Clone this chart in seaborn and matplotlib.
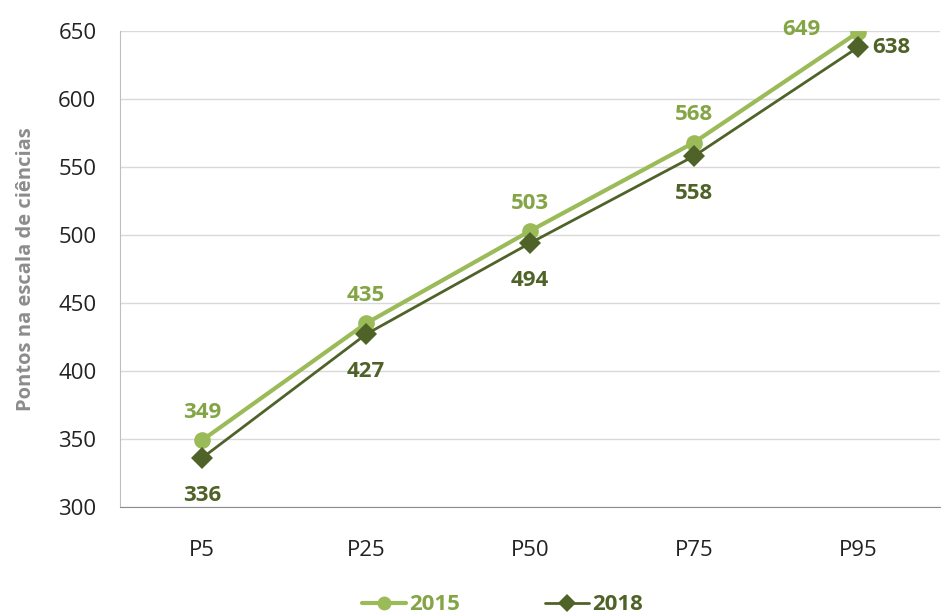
import matplotlib.pyplot as plt
import seaborn as sns
import pandas as pd

# data
percentis = ["P5", "P25", "P50", "P75", "P95"]
pontos_2015 = [349, 435, 503, 568, 649]
pontos_2018 = [336, 427, 494, 558, 638]

cor_2015 = "#9BBB59"
cor_2015_txt = "#84A545"
cor_2018 = "#4F6228"

df = pd.DataFrame({
    "Percentil": percentis * 2,
    "Pontos": pontos_2015 + pontos_2018,
    "Ano": ["2015"] * 5 + ["2018"] * 5,
})

sns.set_style("white")
plt.rcParams['font.family'] = ['Open Sans', 'DejaVu Sans']

fig = plt.figure(figsize=(9.41, 6.14), dpi=100)
ax = fig.add_axes([120 / 941, 1 - 507 / 614, 820 / 941, 476 / 614])

sns.lineplot(
    data=df, x="Percentil", y="Pontos", hue="Ano", style="Ano",
    palette={"2015": cor_2015, "2018": cor_2018},
    markers={"2015": "o", "2018": "D"}, dashes=False,
    markersize=12, linewidth=2, markeredgewidth=0, ax=ax, legend=False,
)
ax.lines[0].set_linewidth(3)
ax.lines[1].set_markersize(11)

ax.set_ylim(300, 650)
ax.set_xlim(-0.5, 4.5)
ax.set_yticks(range(300, 651, 50))
ax.grid(axis="y", color="#D9D9D9", linewidth=1)
ax.set_axisbelow(True)
for s in ["top", "right"]:
    ax.spines[s].set_visible(False)
ax.spines["left"].set_color("#BFBFBF")
ax.spines["bottom"].set_color("#8C8C8C")
ax.tick_params(axis="y", length=7, color="#BFBFBF", labelsize=16, pad=10, labelcolor="#222222")
ax.tick_params(axis="x", length=0, labelsize=16, pad=24, labelcolor="#222222")
ax.set_xticks([i + 0.5 for i in range(-1, 5)], minor=True)
ax.tick_params(axis="x", which="minor", length=7, color="#8C8C8C")
ax.set_xlabel("")
ax.set_ylabel("Pontos na escala de ciências", fontsize=14.5, fontweight="bold",
              color="#8C8C8C", labelpad=16)

# data labels
lbl = dict(textcoords="offset points", ha="center", va="center", fontsize=16, fontweight="bold")
for i, (a, b) in enumerate(zip(pontos_2015, pontos_2018)):
    if i == 4:
        ax.annotate(str(a), (i, a), xytext=(-41, 2), color=cor_2015_txt, **lbl)
        ax.annotate(str(b), (i, b), xytext=(24, 0), color=cor_2018, **lbl)
    else:
        ax.annotate(str(a), (i, a), xytext=(0, 20), color=cor_2015_txt, **lbl)
        ax.annotate(str(b), (i, b), xytext=(0, -27), color=cor_2018, **lbl)

# legend
h1, = ax.plot([], [], color=cor_2015, marker="o", lw=3, markersize=10, markeredgewidth=0)
h2, = ax.plot([], [], color=cor_2018, marker="D", lw=2, markersize=9, markeredgewidth=0)
leg = fig.legend([h1, h2], ["2015", "2018"], loc="lower center", bbox_to_anchor=(0.534, -0.035),
                 ncol=2, frameon=False, handlelength=2.0, columnspacing=3.8,
                 prop={"size": 16, "weight": "bold"}, handletextpad=0.15)
for t, c in zip(leg.get_texts(), [cor_2015_txt, cor_2018]):
    t.set_color(c)

fig.savefig("out.png", dpi=100)
